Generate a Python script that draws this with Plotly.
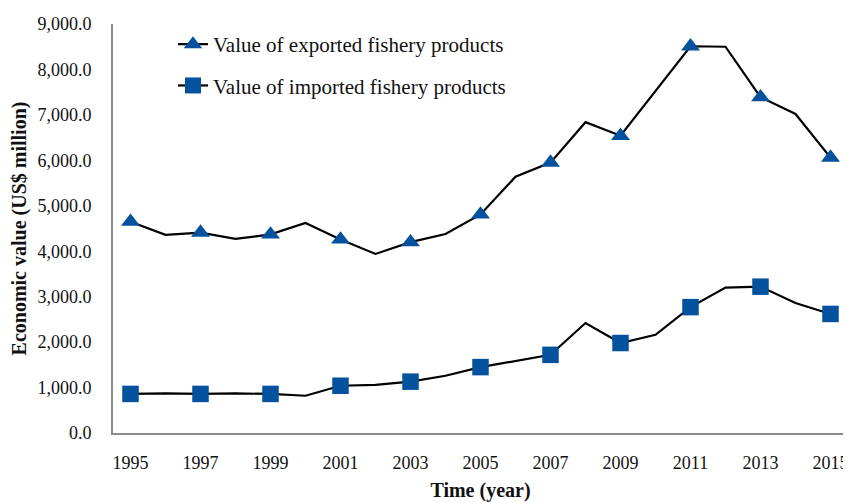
import plotly.graph_objects as go

years = list(range(1995, 2016))
export_vals = [4650, 4360, 4410, 4270, 4370, 4620, 4260, 3940, 4200, 4380, 4810,
               5640, 5950, 6840, 6540, 7520, 8510, 8500, 7390, 7020, 6060]
import_vals = [860, 870, 860, 870, 860, 820, 1040, 1060, 1130, 1260, 1450,
               1590, 1720, 2420, 1980, 2160, 2770, 3200, 3220, 2860, 2620]
x_ticks = list(range(1995, 2016, 2))
export_name = "Value of exported fishery products"
import_name = "Value of imported fishery products"

BLUE = "#04529E"
FONT = "Liberation Serif"

def marker_colors(ys):
    return [BLUE if (y - 1995) % 2 == 0 else "rgba(0,0,0,0)" for y in ys]

fig = go.Figure()
fig.add_trace(go.Scatter(
    x=years, y=export_vals, name=export_name, mode="lines+markers",
    line=dict(color="black", width=2.2),
    marker=dict(symbol="triangle-up", size=16.5, color=marker_colors(years), line=dict(width=0)),
    legendgroup="exp",
))
fig.add_trace(go.Scatter(
    x=years, y=import_vals, name=import_name, mode="lines+markers",
    line=dict(color="black", width=2.2),
    marker=dict(symbol="square", size=16.5, color=marker_colors(years), line=dict(width=0)),
    legendgroup="imp",
))

fig.update_layout(
    width=843, height=494,
    margin=dict(l=105, r=3, t=16, b=69),
    paper_bgcolor="white", plot_bgcolor="white",
    font=dict(family=FONT, size=18, color="#111"),
    showlegend=True,
    legend=dict(font=dict(family=FONT, size=21, color="#111"), bgcolor="rgba(0,0,0,0)",
                x=(173 - 113) / 735, y=1.0, xanchor="left", yanchor="top",
                tracegroupgap=11),
    xaxis=dict(
        range=[1994.5, 2015.5], tickmode="array", tickvals=x_ticks,
        ticktext=[str(t) for t in x_ticks], automargin=False,
        showgrid=False, zeroline=False, showline=True, linecolor="#8a8a8a", linewidth=2,
        ticks="outside", ticklen=12, tickcolor="rgba(0,0,0,0)",
        tickfont=dict(family=FONT, size=18, color="#111"),
        title=dict(text="<b>Time (year)</b>", font=dict(family=FONT, size=20, color="#111"), standoff=14),
    ),
    yaxis=dict(
        range=[0, 9000], tickmode="array", tickvals=list(range(0, 9001, 1000)),
        tickformat=",.1f", automargin=False,
        showgrid=False, zeroline=False, showline=True, linecolor="#8a8a8a", linewidth=2,
        ticks="outside", ticklen=16, tickcolor="rgba(0,0,0,0)",
        tickfont=dict(family=FONT, size=18, color="#111"),
        title=dict(text="<b>Economic value (US$ million)</b>", font=dict(family=FONT, size=20, color="#111"), standoff=7),
    ),
)
fig.write_html("out.html")
